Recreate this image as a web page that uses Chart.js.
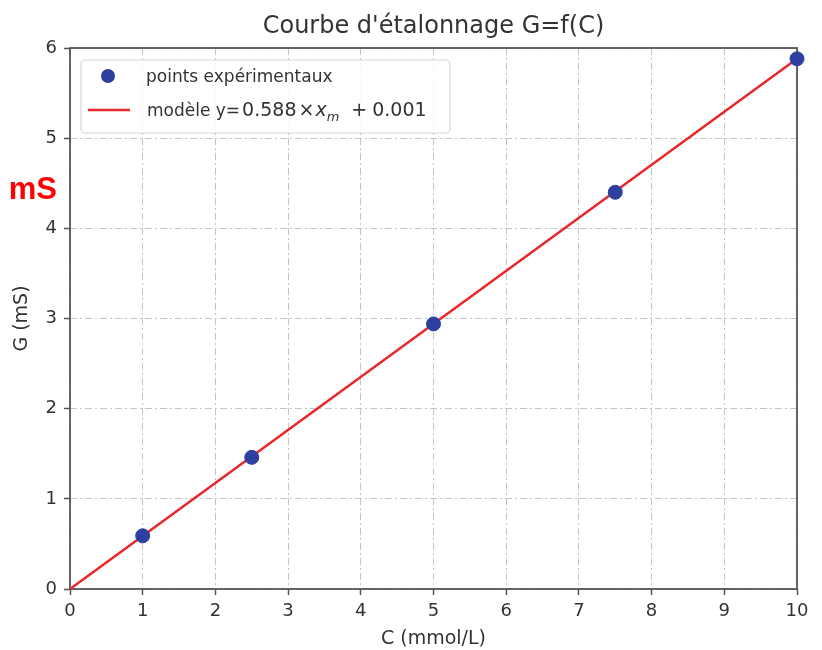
<!DOCTYPE html>
<html>
<head>
<meta charset="utf-8">
<script src="https://cdn.jsdelivr.net/npm/chart.js@4/dist/chart.umd.min.js"></script>
<style>
  html, body { margin: 0; padding: 0; background: #fff; }
  #wrap { width: 822px; height: 650px; }
</style>
</head>
<body>
<div id="wrap"><canvas id="myChart" width="822" height="650"></canvas></div>
<script>
// measured points
const concentrations = [1, 2.5, 5, 7.5, 10];
const conductances = [0.59, 1.46, 2.94, 4.40, 5.88];

// linear model G = a*C + b
const slope = 0.588;
const intercept = 0.001;
const modelC = [0, 10];

const xTicks = [0, 1, 2, 3, 4, 5, 6, 7, 8, 9, 10];
const yTicks = [0, 1, 2, 3, 4, 5, 6];

const titleText = "Courbe d'étalonnage G=f(C)";
const unitText = "mS";
const pointsLabel = "points expérimentaux";

const textColor = "#333";
const gridColor = "#c4c4c4";
const frameColor = "#555";
const dotColor = "#2d40a0";
const lineColor = "#e8272b";

const fontFamily = "'DejaVu Sans', sans-serif";

const pointsData = concentrations.map((c, i) => ({ x: c, y: conductances[i] }));
const modelData = modelC.map(c => ({ x: c, y: slope * c + intercept }));

// title, frame, unit badge and the legend box
const decorations = {
  id: "decorations",
  beforeDatasetsDraw(chart) {
    const { ctx, chartArea: a } = chart;
    ctx.save();
    ctx.strokeStyle = frameColor;
    ctx.lineWidth = 1.8;
    ctx.strokeRect(a.left, a.top, a.right - a.left, a.bottom - a.top);
    ctx.restore();
  },
  afterDraw(chart) {
    const { ctx, chartArea: a } = chart;
    ctx.save();

    ctx.fillStyle = textColor;
    ctx.font = "24px " + fontFamily;
    ctx.textAlign = "center";
    ctx.textBaseline = "middle";
    ctx.fillText(titleText, (a.left + a.right) / 2, 27);

    ctx.fillStyle = "#ff0000";
    ctx.font = "bold 31px 'Liberation Sans', Arial, sans-serif";
    ctx.textAlign = "right";
    ctx.textBaseline = "alphabetic";
    ctx.fillText(unitText, 57, 199);

    // legend
    const lx = a.left + 11, ly = a.top + 12, lw = 369, lh = 73;
    ctx.fillStyle = "rgba(255,255,255,0.85)";
    ctx.strokeStyle = "#d6d6d6";
    ctx.lineWidth = 1.2;
    ctx.beginPath();
    ctx.roundRect(lx, ly, lw, lh, 4);
    ctx.fill();
    ctx.stroke();

    ctx.fillStyle = dotColor;
    ctx.beginPath();
    ctx.arc(lx + 27, ly + 16, 7, 0, Math.PI * 2);
    ctx.fill();

    ctx.strokeStyle = lineColor;
    ctx.lineWidth = 2.5;
    ctx.beginPath();
    ctx.moveTo(lx + 7, ly + 50);
    ctx.lineTo(lx + 49, ly + 50);
    ctx.stroke();

    ctx.fillStyle = textColor;
    ctx.textAlign = "left";
    ctx.textBaseline = "alphabetic";
    ctx.font = "17px " + fontFamily;
    ctx.fillText(pointsLabel, lx + 65, ly + 22);

    // model label: plain text, then the math part set a little larger
    const base = ly + 56;
    const parts = [
      { t: "modèle y=", f: "17px " + fontFamily, gap: 2, dy: 0 },
      { t: "0.588", f: "19px " + fontFamily, gap: 2, dy: 0 },
      { t: "×", f: "19px " + fontFamily, gap: 1, dy: 0 },
      { t: "x", f: "italic 19px " + fontFamily, gap: 0, dy: 0 },
      { t: "m", f: "italic 13px " + fontFamily, gap: 12, dy: 5 },
      { t: "+", f: "19px " + fontFamily, gap: 5, dy: 0 },
      { t: "0.001", f: "19px " + fontFamily, gap: 0, dy: 0 }
    ];
    let x = lx + 66;
    for (const p of parts) {
      ctx.font = p.f;
      ctx.fillText(p.t, x, base + p.dy);
      x += ctx.measureText(p.t).width + p.gap;
    }
    ctx.restore();
  }
};

const ctx = document.getElementById("myChart").getContext("2d");
const myChart = new Chart(ctx, {
  type: "scatter",
  data: {
    datasets: [
      {
        label: "modèle",
        data: modelData,
        showLine: true,
        borderColor: lineColor,
        borderWidth: 2.5,
        pointRadius: 0,
        fill: false,
        order: 2
      },
      {
        label: pointsLabel,
        data: pointsData,
        backgroundColor: dotColor,
        borderColor: dotColor,
        pointRadius: 7,
        order: 1
      }
    ]
  },
  options: {
    responsive: false,
    animation: false,
    clip: false,
    layout: { padding: { top: 48, right: 25, left: 0, bottom: 0 } },
    plugins: {
      legend: { display: false },
      title: { display: false },
      tooltip: { enabled: false }
    },
    scales: {
      x: {
        type: "linear",
        min: 0,
        max: 10,
        afterBuildTicks: scale => { scale.ticks = xTicks.map(v => ({ value: v })); },
        afterFit: scale => { scale.height = 61; },
        ticks: { color: textColor, font: { family: fontFamily, size: 18 }, padding: 6, maxRotation: 0 },
        grid: { color: gridColor, lineWidth: 1, tickLength: 6, tickColor: frameColor, tickWidth: 1.5 },
        border: { display: false, dash: [7, 3, 2, 3] },
        title: {
          display: true,
          text: "C (mmol/L)",
          color: textColor,
          font: { family: fontFamily, size: 19 },
          padding: { top: 0, bottom: 0 }
        }
      },
      y: {
        type: "linear",
        min: 0,
        max: 6,
        afterBuildTicks: scale => { scale.ticks = yTicks.map(v => ({ value: v })); },
        afterFit: scale => { scale.width = 70; },
        ticks: { color: textColor, font: { family: fontFamily, size: 18 }, padding: 7 },
        grid: { color: gridColor, lineWidth: 1, tickLength: 6, tickColor: frameColor, tickWidth: 1.5 },
        border: { display: false, dash: [7, 3, 2, 3] },
        title: {
          display: true,
          text: "G (mS)",
          color: textColor,
          font: { family: fontFamily, size: 19 },
          padding: { top: 11, bottom: 0 }
        }
      }
    }
  },
  plugins: [decorations]
});
</script>
</body>
</html>
